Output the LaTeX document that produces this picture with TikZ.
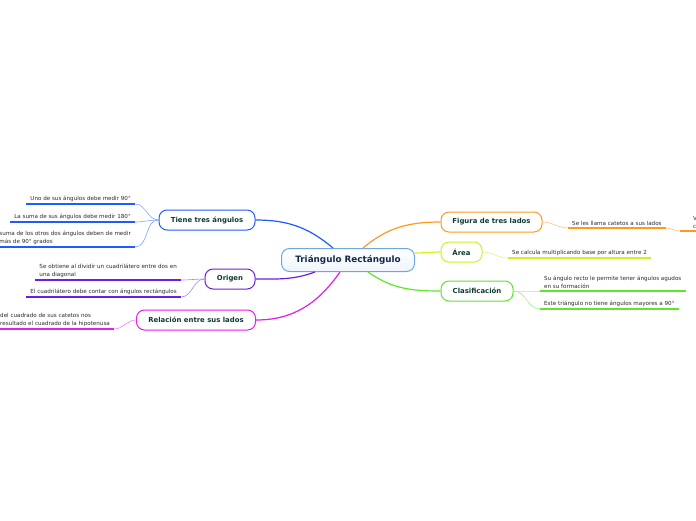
\documentclass[tikz,border=0pt]{standalone}
\usepackage{fontspec}
\setmainfont{DejaVu Sans}
\usetikzlibrary{positioning}
\definecolor{mmBlue}{HTML}{1F5BFF}
\definecolor{mmPurple}{HTML}{6A1FE6}
\definecolor{mmMagenta}{HTML}{E61FE6}
\definecolor{mmOrange}{HTML}{FF9A1F}
\definecolor{mmYellow}{HTML}{D6F01F}
\definecolor{mmGreen}{HTML}{5FE62A}
\definecolor{mmCore}{HTML}{6FA8DC}
\definecolor{mmNavy}{HTML}{14284B}
\definecolor{mmTeal}{HTML}{0E3B30}
\definecolor{mmText}{HTML}{2B2B2B}

\begin{document}
\begin{tikzpicture}[x=1pt, y=-1pt,
  central/.style={draw=mmCore, line width=1pt, rounded corners=8pt,
    top color=white, bottom color=mmCore!12, text=mmNavy,
    font=\bfseries\fontsize{8.8}{10}\selectfont, minimum width=133pt, minimum height=23pt},
  topic/.style={draw=#1, line width=1pt, rounded corners=8pt, fill=white,
    text=mmTeal, font=\bfseries\fontsize{6.9}{8}\selectfont, minimum height=20pt, inner sep=0pt},
  subtxt/.style={font=\fontsize{5.6}{7.8}\selectfont, text=mmText, align=left,
    inner xsep=4pt, inner ysep=2.5pt},
  branch/.style={draw=#1, line width=1.2pt},
  twig/.style={draw=#1!55, line width=0.6pt},
  uline/.style={draw=#1, line width=1.4pt}]
  \useasboundingbox (0,0) rectangle (696,520);
  \clip (0,0) rectangle (696,520);
  \fill[white] (0,0) rectangle (696,520);

  % main topics
  \node[central] (core) at (348,260) {Triángulo Rectángulo};
  \node[topic=mmBlue, minimum width=96pt] (tiene) at (207,220) {Tiene tres ángulos};
  \node[topic=mmPurple, minimum width=50pt] (origen) at (230,279) {Origen};
  \node[topic=mmMagenta, minimum width=119pt] (relacion) at (196,320) {Relación entre sus lados};
  \node[topic=mmOrange, minimum width=101pt] (figura) at (491.5,222) {Figura de tres lados};
  \node[topic=mmYellow, minimum width=41pt] (area) at (461.5,252) {Área};
  \node[topic=mmGreen, minimum width=72pt] (clasif) at (477,291) {Clasificación};

  % subtopics, left side
  \node[subtxt, anchor=south east] (t1) at (135,204) {Uno de sus ángulos debe medir 90°};
  \node[subtxt, anchor=south east] (t2) at (135,222) {La suma de sus ángulos debe medir 180°};
  \node[subtxt, anchor=south east] (t3) at (135,247) {suma de los otros dos ángulos deben de medir\\más de 90° grados};
  \node[subtxt, anchor=south east] (o1) at (181,280) {Se obtiene al dividir un cuadrilátero entre dos en\\una diagonal};
  \node[subtxt, anchor=south east] (o2) at (181,297) {El cuadrilátero debe contar con ángulos rectángulos};
  \node[subtxt, anchor=south west] (r1) at (-4,329) {del cuadrado de sus catetos nos\\resultado el cuadrado de la hipotenusa};

  % subtopics, right side
  \node[subtxt, anchor=south west] (f1) at (568,228) {Se les llama catetos a sus lados};
  \node[subtxt, anchor=south west] (f2) at (689,231) {V\\c};
  \node[subtxt, anchor=south west] (a1) at (508,258) {Se calcula multiplicando base por altura entre 2};
  \node[subtxt, anchor=south west] (c1) at (540,291) {Su ángulo recto le permite tener ángulos agudos\\en su formación};
  \node[subtxt, anchor=south west] (c2) at (540,309) {Este triángulo no tiene ángulos mayores a 90°};
  \coordinate (f2start) at ([xshift=-9pt]f2.south west);

  % branches from the centre
  \draw[branch=mmBlue] ([xshift=-15pt]core.north) to[out=140, in=0] (tiene.east);
  \draw[branch=mmPurple] ([xshift=-33pt]core.south) to[out=200, in=0] (origen.east);
  \draw[branch=mmMagenta] ([xshift=-8pt]core.south) to[out=235, in=0] (relacion.east);
  \draw[branch=mmOrange] ([xshift=15pt]core.north) to[out=40, in=180] (figura.west);
  \draw[branch=mmYellow] ([yshift=7pt]core.east) to[out=0, in=180] (area.west);
  \draw[branch=mmGreen] ([xshift=20pt]core.south) to[out=-35, in=180] (clasif.west);

  % twigs to subtopics
  \foreach \s in {t1,t2,t3} \draw[twig=mmBlue] (tiene.west) to[out=180, in=0] (\s.south east);
  \foreach \s in {o1,o2} \draw[twig=mmPurple] (origen.west) to[out=180, in=0] (\s.south east);
  \draw[twig=mmMagenta] (relacion.west) to[out=180, in=0] (r1.south east);
  \draw[twig=mmOrange] (figura.east) to[out=0, in=180] (f1.south west);
  \draw[twig=mmOrange] (f1.south east) to[out=0, in=180] (f2start);
  \draw[twig=mmYellow] (area.east) to[out=0, in=180] (a1.south west);
  \foreach \s in {c1,c2} \draw[twig=mmGreen] (clasif.east) to[out=0, in=180] (\s.south west);

  % underlines
  \foreach \s in {t1,t2,t3} \draw[uline=mmBlue] (\s.south west) -- (\s.south east);
  \foreach \s in {o1,o2} \draw[uline=mmPurple] (\s.south west) -- (\s.south east);
  \draw[uline=mmMagenta] (r1.south west) -- (r1.south east);
  \draw[uline=mmOrange] (f1.south west) -- (f1.south east);
  \draw[uline=mmOrange] (f2start) -- (f2.south east);
  \draw[uline=mmYellow] (a1.south west) -- (a1.south east);
  \foreach \s in {c1,c2} \draw[uline=mmGreen] (\s.south west) -- (\s.south east);
\end{tikzpicture}
\end{document}
